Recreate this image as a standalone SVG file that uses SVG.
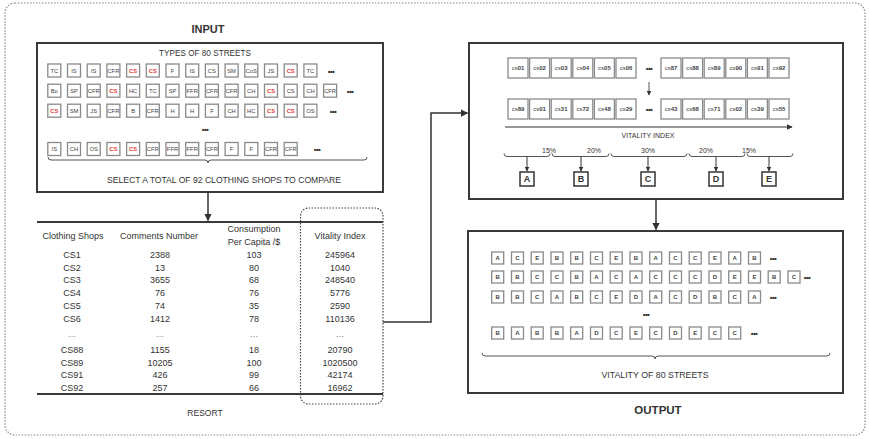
<svg xmlns="http://www.w3.org/2000/svg" xmlns:xlink="http://www.w3.org/1999/xlink" width="869" height="439" viewBox="0 0 869 439">
<style>
text{font-family:"Liberation Sans",Arial,sans-serif;fill:#333}
.c{text-anchor:middle}
.b{font-weight:bold}
.sl{font-size:5.8px;text-anchor:middle;fill:#444}
.r{fill:#e53935}
.sb{fill:#fff;stroke:#8a8a8a;stroke-width:1.3}
.frame{fill:none;stroke:#3a3a3a;stroke-width:2}
.conn{fill:none;stroke:#333;stroke-width:1.5}
.thin{fill:none;stroke:#555;stroke-width:1}
.dots{font-size:8px;font-weight:bold;text-anchor:middle;fill:#333;letter-spacing:-0.6px}
.tb{font-size:9px;text-anchor:middle}
.cs{font-size:6px;text-anchor:middle;fill:#444}
.lb{font-size:6px;text-anchor:middle;fill:#444;font-weight:bold}
.L{fill:#fff;stroke:#333;stroke-width:1.5}
</style>
<defs>
<marker id="ah" viewBox="0 0 10 10" refX="9" refY="5" markerWidth="5" markerHeight="5" orient="auto-start-reverse"><path d="M0,0 L10,5 L0,10 z" fill="#333"/></marker>
<rect id="s13" class="sb" width="13" height="13"/>
<rect id="s20" class="sb" width="20" height="20"/>
<rect id="s12" class="sb" width="12" height="12"/>
</defs>
<rect x="5" y="3" width="860" height="432" rx="10" fill="none" stroke="#888" stroke-width="1.2" stroke-dasharray="1.5,1.5"/>

<g id="input">
<text x="208" y="33" class="c b" font-size="11px">INPUT</text>
<rect x="37" y="43" width="346" height="149" class="frame"/>
<text x="205" y="56" class="c" font-size="8.2px">TYPES OF 80 STREETS</text>
<g>
<use xlink:href="#s13" x="47.8" y="64"/><use xlink:href="#s13" x="67.5" y="64"/><use xlink:href="#s13" x="87.2" y="64"/><use xlink:href="#s13" x="106.9" y="64"/><use xlink:href="#s13" x="126.6" y="64"/><use xlink:href="#s13" x="146.3" y="64"/><use xlink:href="#s13" x="166" y="64"/><use xlink:href="#s13" x="185.7" y="64"/><use xlink:href="#s13" x="205.4" y="64"/><use xlink:href="#s13" x="225.1" y="64"/><use xlink:href="#s13" x="244.8" y="64"/><use xlink:href="#s13" x="264.5" y="64"/><use xlink:href="#s13" x="284.2" y="64"/><use xlink:href="#s13" x="303.9" y="64"/>
<text class="sl" y="72.6"><tspan x="54.3">TC</tspan><tspan x="74">IS</tspan><tspan x="93.7">IS</tspan><tspan x="113.4">CFR</tspan><tspan x="133.1" class="r b">CS</tspan><tspan x="152.8" class="r b">CS</tspan><tspan x="172.5">F</tspan><tspan x="192.2">IS</tspan><tspan x="211.9">CS</tspan><tspan x="231.6">SM</tspan><tspan x="251.3">CoS</tspan><tspan x="271">JS</tspan><tspan x="290.7" class="r b">CS</tspan><tspan x="310.4">TC</tspan></text>
<text class="dots" x="331" y="73.5">•••</text>
</g>
<g>
<use xlink:href="#s13" x="47.8" y="84.2"/><use xlink:href="#s13" x="67.5" y="84.2"/><use xlink:href="#s13" x="87.2" y="84.2"/><use xlink:href="#s13" x="106.9" y="84.2"/><use xlink:href="#s13" x="126.6" y="84.2"/><use xlink:href="#s13" x="146.3" y="84.2"/><use xlink:href="#s13" x="166" y="84.2"/><use xlink:href="#s13" x="185.7" y="84.2"/><use xlink:href="#s13" x="205.4" y="84.2"/><use xlink:href="#s13" x="225.1" y="84.2"/><use xlink:href="#s13" x="244.8" y="84.2"/><use xlink:href="#s13" x="264.5" y="84.2"/><use xlink:href="#s13" x="284.2" y="84.2"/><use xlink:href="#s13" x="303.9" y="84.2"/><use xlink:href="#s13" x="323.6" y="84.2"/>
<text class="sl" y="92.8"><tspan x="54.3">Bo</tspan><tspan x="74">SP</tspan><tspan x="93.7">CFR</tspan><tspan x="113.4" class="r b">CS</tspan><tspan x="133.1">HC</tspan><tspan x="152.8">TC</tspan><tspan x="172.5">SP</tspan><tspan x="192.2">FFR</tspan><tspan x="211.9">CFR</tspan><tspan x="231.6">CFR</tspan><tspan x="251.3">CH</tspan><tspan x="271" class="r b">CS</tspan><tspan x="290.7">CS</tspan><tspan x="310.4">CH</tspan><tspan x="330.1">CFR</tspan></text>
<text class="dots" x="350" y="93.7">•••</text>
</g>
<g>
<use xlink:href="#s13" x="47.8" y="104.2"/><use xlink:href="#s13" x="67.5" y="104.2"/><use xlink:href="#s13" x="87.2" y="104.2"/><use xlink:href="#s13" x="106.9" y="104.2"/><use xlink:href="#s13" x="126.6" y="104.2"/><use xlink:href="#s13" x="146.3" y="104.2"/><use xlink:href="#s13" x="166" y="104.2"/><use xlink:href="#s13" x="185.7" y="104.2"/><use xlink:href="#s13" x="205.4" y="104.2"/><use xlink:href="#s13" x="225.1" y="104.2"/><use xlink:href="#s13" x="244.8" y="104.2"/><use xlink:href="#s13" x="264.5" y="104.2"/><use xlink:href="#s13" x="284.2" y="104.2"/><use xlink:href="#s13" x="303.9" y="104.2"/>
<text class="sl" y="112.8"><tspan x="54.3" class="r b">CS</tspan><tspan x="74">SM</tspan><tspan x="93.7">JS</tspan><tspan x="113.4">CFR</tspan><tspan x="133.1">B</tspan><tspan x="152.8">CFR</tspan><tspan x="172.5">H</tspan><tspan x="192.2">H</tspan><tspan x="211.9">F</tspan><tspan x="231.6">CH</tspan><tspan x="251.3">HC</tspan><tspan x="271" class="r b">CS</tspan><tspan x="290.7" class="r b">CS</tspan><tspan x="310.4">OS</tspan></text>
<text class="dots" x="333" y="113.7">•••</text>
</g>
<text class="dots" x="205" y="132">•••</text>
<g>
<use xlink:href="#s13" x="47.8" y="142.5"/><use xlink:href="#s13" x="67.5" y="142.5"/><use xlink:href="#s13" x="87.2" y="142.5"/><use xlink:href="#s13" x="106.9" y="142.5"/><use xlink:href="#s13" x="126.6" y="142.5"/><use xlink:href="#s13" x="146.3" y="142.5"/><use xlink:href="#s13" x="166" y="142.5"/><use xlink:href="#s13" x="185.7" y="142.5"/><use xlink:href="#s13" x="205.4" y="142.5"/><use xlink:href="#s13" x="225.1" y="142.5"/><use xlink:href="#s13" x="244.8" y="142.5"/><use xlink:href="#s13" x="264.5" y="142.5"/><use xlink:href="#s13" x="284.2" y="142.5"/>
<text class="sl" y="151.1"><tspan x="54.3">IS</tspan><tspan x="74">CH</tspan><tspan x="93.7">OS</tspan><tspan x="113.4" class="r b">CS</tspan><tspan x="133.1" class="r b">CS</tspan><tspan x="152.8">CFR</tspan><tspan x="172.5">FFR</tspan><tspan x="192.2">FFR</tspan><tspan x="211.9">CFR</tspan><tspan x="231.6">F</tspan><tspan x="251.3">F</tspan><tspan x="271">CFR</tspan><tspan x="290.7">CFR</tspan></text>
<text class="dots" x="317" y="152">•••</text>
</g>
<path class="thin" d="M48,157 q0,3 3,3 H205 q3,0 3,3 q0,-3 3,-3 H364 q3,0 3,-3"/>
<text x="224" y="183" class="c" font-size="8.6px">SELECT A TOTAL OF 92 CLOTHING SHOPS TO COMPARE</text>
</g>

<g id="table">
<line x1="37" y1="222" x2="383" y2="222" stroke="#3a3a3a" stroke-width="2"/>
<line x1="37" y1="394" x2="383" y2="394" stroke="#3a3a3a" stroke-width="2"/>
<rect x="300.5" y="208" width="82.5" height="196" rx="8" fill="none" stroke="#444" stroke-width="1.2" stroke-dasharray="1.5,1.5"/>
<text class="tb" x="73" y="239">Clothing Shops</text>
<text class="tb" x="159" y="239">Comments Number</text>
<text class="tb" x="254" y="232">Consumption</text>
<text class="tb" x="254" y="245">Per Capita /$</text>
<text class="tb" x="340" y="239">Vitality Index</text>
<text class="tb" x="72"><tspan x="72" y="258">CS1</tspan><tspan x="72" y="270.7">CS2</tspan><tspan x="72" y="283.4">CS3</tspan><tspan x="72" y="296.1">CS4</tspan><tspan x="72" y="308.8">CS5</tspan><tspan x="72" y="321.5">CS6</tspan><tspan x="72" y="337" fill="#777">…</tspan><tspan x="72" y="353">CS88</tspan><tspan x="72" y="365.7">CS89</tspan><tspan x="72" y="378.4">CS91</tspan><tspan x="72" y="391.1">CS92</tspan></text>
<text class="tb" x="160"><tspan x="160" y="258">2388</tspan><tspan x="160" y="270.7">13</tspan><tspan x="160" y="283.4">3655</tspan><tspan x="160" y="296.1">76</tspan><tspan x="160" y="308.8">74</tspan><tspan x="160" y="321.5">1412</tspan><tspan x="160" y="337" fill="#777">…</tspan><tspan x="160" y="353">1155</tspan><tspan x="160" y="365.7">10205</tspan><tspan x="160" y="378.4">426</tspan><tspan x="160" y="391.1">257</tspan></text>
<text class="tb" x="254"><tspan x="254" y="258">103</tspan><tspan x="254" y="270.7">80</tspan><tspan x="254" y="283.4">68</tspan><tspan x="254" y="296.1">76</tspan><tspan x="254" y="308.8">35</tspan><tspan x="254" y="321.5">78</tspan><tspan x="254" y="337" fill="#777">…</tspan><tspan x="254" y="353">18</tspan><tspan x="254" y="365.7">100</tspan><tspan x="254" y="378.4">99</tspan><tspan x="254" y="391.1">66</tspan></text>
<text class="tb" x="340"><tspan x="340" y="258">245964</tspan><tspan x="340" y="270.7">1040</tspan><tspan x="340" y="283.4">248540</tspan><tspan x="340" y="296.1">5776</tspan><tspan x="340" y="308.8">2590</tspan><tspan x="340" y="321.5">110136</tspan><tspan x="340" y="337" fill="#777">…</tspan><tspan x="340" y="353">20790</tspan><tspan x="340" y="365.7">1020500</tspan><tspan x="340" y="378.4">42174</tspan><tspan x="340" y="391.1">16962</tspan></text>
<text x="205" y="416" class="c" font-size="8.5px">RESORT</text>
</g>

<g id="ranking">
<rect x="469" y="43" width="374" height="156" class="frame"/>
<use xlink:href="#s20" x="508" y="58"/><use xlink:href="#s20" x="529.6" y="58"/><use xlink:href="#s20" x="551.2" y="58"/><use xlink:href="#s20" x="572.8" y="58"/><use xlink:href="#s20" x="594.4" y="58"/><use xlink:href="#s20" x="616" y="58"/>
<use xlink:href="#s20" x="661" y="58"/><use xlink:href="#s20" x="682.6" y="58"/><use xlink:href="#s20" x="704.2" y="58"/><use xlink:href="#s20" x="725.8" y="58"/><use xlink:href="#s20" x="747.4" y="58"/><use xlink:href="#s20" x="769" y="58"/>
<text class="cs" y="70"><tspan x="518">cs<tspan class="b">01</tspan></tspan><tspan x="539.6">cs<tspan class="b">02</tspan></tspan><tspan x="561.2">cs<tspan class="b">03</tspan></tspan><tspan x="582.8">cs<tspan class="b">04</tspan></tspan><tspan x="604.4">cs<tspan class="b">05</tspan></tspan><tspan x="626">cs<tspan class="b">06</tspan></tspan><tspan x="671">cs<tspan class="b">87</tspan></tspan><tspan x="692.6">cs<tspan class="b">88</tspan></tspan><tspan x="714.2">cs<tspan class="b">89</tspan></tspan><tspan x="735.8">cs<tspan class="b">90</tspan></tspan><tspan x="757.4">cs<tspan class="b">91</tspan></tspan><tspan x="779">cs<tspan class="b">92</tspan></tspan></text>
<text class="dots" x="649" y="71">•••</text>
<line x1="649" y1="82" x2="649" y2="95" class="thin" marker-end="url(#ah)"/>
<use xlink:href="#s20" x="508" y="99"/><use xlink:href="#s20" x="529.6" y="99"/><use xlink:href="#s20" x="551.2" y="99"/><use xlink:href="#s20" x="572.8" y="99"/><use xlink:href="#s20" x="594.4" y="99"/><use xlink:href="#s20" x="616" y="99"/>
<use xlink:href="#s20" x="661" y="99"/><use xlink:href="#s20" x="682.6" y="99"/><use xlink:href="#s20" x="704.2" y="99"/><use xlink:href="#s20" x="725.8" y="99"/><use xlink:href="#s20" x="747.4" y="99"/><use xlink:href="#s20" x="769" y="99"/>
<text class="cs" y="111"><tspan x="518">cs<tspan class="b">89</tspan></tspan><tspan x="539.6">cs<tspan class="b">01</tspan></tspan><tspan x="561.2">cs<tspan class="b">31</tspan></tspan><tspan x="582.8">cs<tspan class="b">72</tspan></tspan><tspan x="604.4">cs<tspan class="b">48</tspan></tspan><tspan x="626">cs<tspan class="b">29</tspan></tspan><tspan x="671">cs<tspan class="b">43</tspan></tspan><tspan x="692.6">cs<tspan class="b">68</tspan></tspan><tspan x="714.2">cs<tspan class="b">71</tspan></tspan><tspan x="735.8">cs<tspan class="b">02</tspan></tspan><tspan x="757.4">cs<tspan class="b">39</tspan></tspan><tspan x="779">cs<tspan class="b">55</tspan></tspan></text>
<text class="dots" x="649" y="112">•••</text>
<line x1="505" y1="127" x2="792" y2="127" stroke="#333" stroke-width="1.2" marker-end="url(#ah)"/>
<text x="648" y="137.5" class="c" font-size="7px">VITALITY INDEX</text>
<text font-size="7px" class="c" y="152.5"><tspan x="549">15%</tspan><tspan x="594">20%</tspan><tspan x="648">30%</tspan><tspan x="706">20%</tspan><tspan x="749">15%</tspan></text>
<path class="thin" d="M504,153.5 q0,3 3,3 H547 q3,0 3,-3 M552,153.5 q0,3 3,3 H606 q3,0 3,-3 M611,153.5 q0,3 3,3 H684 q3,0 3,-3 M689,153.5 q0,3 3,3 H742 q3,0 3,-3 M747,153.5 q0,3 3,3 H790 q3,0 3,-3"/>
<g stroke="#333" stroke-width="1">
<line x1="527" y1="156.5" x2="527" y2="171" marker-end="url(#ah)"/>
<line x1="581" y1="156.5" x2="581" y2="171" marker-end="url(#ah)"/>
<line x1="648" y1="156.5" x2="648" y2="171" marker-end="url(#ah)"/>
<line x1="716" y1="156.5" x2="716" y2="171" marker-end="url(#ah)"/>
<line x1="769" y1="156.5" x2="769" y2="171" marker-end="url(#ah)"/>
</g>
<rect x="520" y="172" width="14" height="14" class="L"/><rect x="574" y="172" width="14" height="14" class="L"/><rect x="641" y="172" width="14" height="14" class="L"/><rect x="709" y="172" width="14" height="14" class="L"/><rect x="762" y="172" width="14" height="14" class="L"/>
<text class="c b" font-size="9px" y="182.3"><tspan x="527">A</tspan><tspan x="581">B</tspan><tspan x="648">C</tspan><tspan x="716">D</tspan><tspan x="769">E</tspan></text>
</g>

<g id="output">
<rect x="468" y="231" width="375" height="162" class="frame"/>
<g>
<use xlink:href="#s12" x="491.7" y="252"/><use xlink:href="#s12" x="511.5" y="252"/><use xlink:href="#s12" x="531.2" y="252"/><use xlink:href="#s12" x="551" y="252"/><use xlink:href="#s12" x="570.7" y="252"/><use xlink:href="#s12" x="590.5" y="252"/><use xlink:href="#s12" x="610.2" y="252"/><use xlink:href="#s12" x="630" y="252"/><use xlink:href="#s12" x="649.7" y="252"/><use xlink:href="#s12" x="669.5" y="252"/><use xlink:href="#s12" x="689.2" y="252"/><use xlink:href="#s12" x="709" y="252"/><use xlink:href="#s12" x="728.7" y="252"/><use xlink:href="#s12" x="748.5" y="252"/>
<text class="lb" y="260.2"><tspan x="497.7">A</tspan><tspan x="517.5">C</tspan><tspan x="537.2">E</tspan><tspan x="557">B</tspan><tspan x="576.7">B</tspan><tspan x="596.5">C</tspan><tspan x="616.2">E</tspan><tspan x="636">B</tspan><tspan x="655.7">A</tspan><tspan x="675.5">C</tspan><tspan x="695.2">C</tspan><tspan x="715">E</tspan><tspan x="734.7">A</tspan><tspan x="754.5">B</tspan></text>
<text class="dots" x="773" y="261">•••</text>
</g>
<g>
<use xlink:href="#s12" x="491.7" y="271"/><use xlink:href="#s12" x="511.5" y="271"/><use xlink:href="#s12" x="531.2" y="271"/><use xlink:href="#s12" x="551" y="271"/><use xlink:href="#s12" x="570.7" y="271"/><use xlink:href="#s12" x="590.5" y="271"/><use xlink:href="#s12" x="610.2" y="271"/><use xlink:href="#s12" x="630" y="271"/><use xlink:href="#s12" x="649.7" y="271"/><use xlink:href="#s12" x="669.5" y="271"/><use xlink:href="#s12" x="689.2" y="271"/><use xlink:href="#s12" x="709" y="271"/><use xlink:href="#s12" x="728.7" y="271"/><use xlink:href="#s12" x="748.5" y="271"/><use xlink:href="#s12" x="768.2" y="271"/><use xlink:href="#s12" x="788" y="271"/>
<text class="lb" y="279.2"><tspan x="497.7">B</tspan><tspan x="517.5">B</tspan><tspan x="537.2">C</tspan><tspan x="557">C</tspan><tspan x="576.7">B</tspan><tspan x="596.5">A</tspan><tspan x="616.2">C</tspan><tspan x="636">A</tspan><tspan x="655.7">C</tspan><tspan x="675.5">C</tspan><tspan x="695.2">C</tspan><tspan x="715">D</tspan><tspan x="734.7">E</tspan><tspan x="754.5">E</tspan><tspan x="774.2">B</tspan><tspan x="794">C</tspan></text>
<text class="dots" x="807" y="280">•••</text>
</g>
<g>
<use xlink:href="#s12" x="491.7" y="291"/><use xlink:href="#s12" x="511.5" y="291"/><use xlink:href="#s12" x="531.2" y="291"/><use xlink:href="#s12" x="551" y="291"/><use xlink:href="#s12" x="570.7" y="291"/><use xlink:href="#s12" x="590.5" y="291"/><use xlink:href="#s12" x="610.2" y="291"/><use xlink:href="#s12" x="630" y="291"/><use xlink:href="#s12" x="649.7" y="291"/><use xlink:href="#s12" x="669.5" y="291"/><use xlink:href="#s12" x="689.2" y="291"/><use xlink:href="#s12" x="709" y="291"/><use xlink:href="#s12" x="728.7" y="291"/><use xlink:href="#s12" x="748.5" y="291"/>
<text class="lb" y="299.2"><tspan x="497.7">B</tspan><tspan x="517.5">B</tspan><tspan x="537.2">C</tspan><tspan x="557">A</tspan><tspan x="576.7">B</tspan><tspan x="596.5">C</tspan><tspan x="616.2">E</tspan><tspan x="636">D</tspan><tspan x="655.7">A</tspan><tspan x="675.5">C</tspan><tspan x="695.2">D</tspan><tspan x="715">B</tspan><tspan x="734.7">C</tspan><tspan x="754.5">A</tspan></text>
<text class="dots" x="773" y="300">•••</text>
</g>
<text class="dots" x="646" y="317">•••</text>
<g>
<use xlink:href="#s12" x="491.7" y="327"/><use xlink:href="#s12" x="511.5" y="327"/><use xlink:href="#s12" x="531.2" y="327"/><use xlink:href="#s12" x="551" y="327"/><use xlink:href="#s12" x="570.7" y="327"/><use xlink:href="#s12" x="590.5" y="327"/><use xlink:href="#s12" x="610.2" y="327"/><use xlink:href="#s12" x="630" y="327"/><use xlink:href="#s12" x="649.7" y="327"/><use xlink:href="#s12" x="669.5" y="327"/><use xlink:href="#s12" x="689.2" y="327"/><use xlink:href="#s12" x="709" y="327"/><use xlink:href="#s12" x="728.7" y="327"/>
<text class="lb" y="335.2"><tspan x="497.7">B</tspan><tspan x="517.5">A</tspan><tspan x="537.2">B</tspan><tspan x="557">B</tspan><tspan x="576.7">A</tspan><tspan x="596.5">D</tspan><tspan x="616.2">C</tspan><tspan x="636">E</tspan><tspan x="655.7">C</tspan><tspan x="675.5">D</tspan><tspan x="695.2">E</tspan><tspan x="715">C</tspan><tspan x="734.7">C</tspan></text>
<text class="dots" x="754" y="336">•••</text>
</g>
<path class="thin" d="M482,353 q0,3 3,3 H652 q3,0 3,3 q0,-3 3,-3 H827 q3,0 3,-3"/>
<text x="655" y="378" class="c" font-size="8.8px">VITALITY OF 80 STREETS</text>
<text x="658" y="414" class="c b" font-size="11.5px">OUTPUT</text>
</g>

<g id="connectors">
<line x1="208" y1="192" x2="208" y2="220.5" class="conn" marker-end="url(#ah)"/>
<polyline points="383,322 431,322 431,113 467.5,113" class="conn" marker-end="url(#ah)"/>
<line x1="656" y1="199" x2="656" y2="229.5" class="conn" marker-end="url(#ah)"/>
</g>
</svg>
